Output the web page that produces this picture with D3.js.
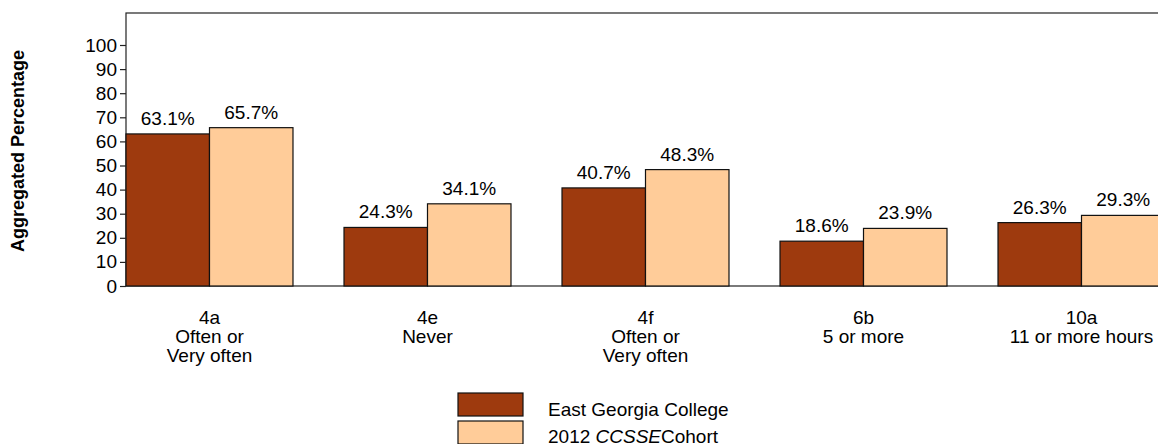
<!DOCTYPE html>
<html>
<head>
<meta charset="utf-8">
<script src="https://cdn.jsdelivr.net/npm/d3@7"></script>
<style>
  body { margin: 0; background: #fff; }
  svg { display: block; font-family: "Liberation Sans", Arial, sans-serif; }
</style>
</head>
<body>
<script>
// Données du graphique
const codes = ['4a', '4e', '4f', '6b', '10a'];
const responses = [['Often or', 'Very often'], ['Never'], ['Often or', 'Very often'], ['5 or more'], ['11 or more hours']];
const college = [63.1, 24.3, 40.7, 18.6, 26.3];
const cohort = [65.7, 34.1, 48.3, 23.9, 29.3];
const seriesNames = ['East Georgia College', '2012 CCSSE Cohort'];
const yTicks = [0, 10, 20, 30, 40, 50, 60, 70, 80, 90, 100];

const width = 1158;
const height = 444;
const margin = { top: 13, left: 126, bottom: 286 };
const colors = ['#9e3a0e', '#ffcc99'];
const fontSize = 19;

const svg = d3.select('body')
  .append('svg')
  .attr('width', width)
  .attr('height', height);

// Échelles
const x = d3.scaleBand()
  .domain(codes)
  .range([margin.left, 1165])
  .paddingInner(0.234)
  .paddingOuter(0);

const xs = d3.scaleBand()
  .domain([0, 1])
  .range([0, x.bandwidth()]);

const y = d3.scaleLinear()
  .domain([0, 100])
  .range([margin.bottom, 45]);

// Cadre
svg.append('rect')
  .attr('x', margin.left)
  .attr('y', margin.top)
  .attr('width', 1300)
  .attr('height', margin.bottom - margin.top)
  .attr('fill', 'none')
  .attr('stroke', '#222')
  .attr('stroke-width', 1.2);

// Barres
const groups = svg.append('g')
  .selectAll('g')
  .data(codes)
  .join('g')
  .attr('transform', d => `translate(${x(d)},0)`);

groups.selectAll('rect')
  .data((d, i) => [college[i], cohort[i]])
  .join('rect')
  .attr('x', (d, j) => xs(j))
  .attr('y', d => y(d))
  .attr('width', xs.bandwidth())
  .attr('height', d => y(0) - y(d))
  .attr('fill', (d, j) => colors[j])
  .attr('stroke', '#111')
  .attr('stroke-width', 1.2);

groups.selectAll('text.val')
  .data((d, i) => [college[i], cohort[i]])
  .join('text')
  .attr('class', 'val')
  .attr('x', (d, j) => xs(j) + xs.bandwidth() / 2)
  .attr('y', d => y(d) - 9)
  .attr('text-anchor', 'middle')
  .style('font-size', fontSize + 'px')
  .text(d => d.toFixed(1) + '%');

// Axe vertical
svg.append('g')
  .attr('transform', `translate(${margin.left},0)`)
  .call(d3.axisLeft(y).tickValues(yTicks).tickSize(6).tickPadding(3))
  .call(g => g.select('.domain').remove())
  .call(g => g.selectAll('line').attr('stroke', '#222').attr('stroke-width', 1.2))
  .call(g => g.selectAll('text')
    .attr('fill', '#000')
    .style('font-size', fontSize + 'px')
    .style('font-family', '"Liberation Sans", Arial, sans-serif'));

// Titre vertical
svg.append('text')
  .attr('transform', `translate(24,151) rotate(-90)`)
  .attr('text-anchor', 'middle')
  .style('font-size', '18px')
  .style('font-weight', 'bold')
  .text('Aggregated Percentage');

// Étiquettes des catégories
const cat = svg.append('g')
  .selectAll('text')
  .data(codes)
  .join('text')
  .attr('text-anchor', 'middle')
  .style('font-size', fontSize + 'px')
  .attr('x', d => x(d) + x.bandwidth() / 2)
  .attr('y', 324);

cat.selectAll('tspan')
  .data((d, i) => [d].concat(responses[i]))
  .join('tspan')
  .attr('x', function () { return this.parentNode.getAttribute('x'); })
  .attr('dy', (d, k) => k === 0 ? 0 : 19)
  .text(d => d);

// Légende
const legend = svg.append('g');
seriesNames.forEach((name, i) => {
  legend.append('rect')
    .attr('x', 458)
    .attr('y', 393 + i * 28)
    .attr('width', 65)
    .attr('height', 23)
    .attr('fill', colors[i])
    .attr('stroke', '#111')
    .attr('stroke-width', 1.2);
});
legend.append('text')
  .attr('x', 548)
  .attr('y', 416)
  .style('font-size', fontSize + 'px')
  .text(seriesNames[0]);
const t2 = legend.append('text')
  .attr('x', 548)
  .attr('y', 443)
  .style('font-size', fontSize + 'px');
t2.append('tspan').text('2012 ');
t2.append('tspan').style('font-style', 'italic').text('CCSSE');
t2.append('tspan').text('Cohort');
</script>
</body>
</html>
